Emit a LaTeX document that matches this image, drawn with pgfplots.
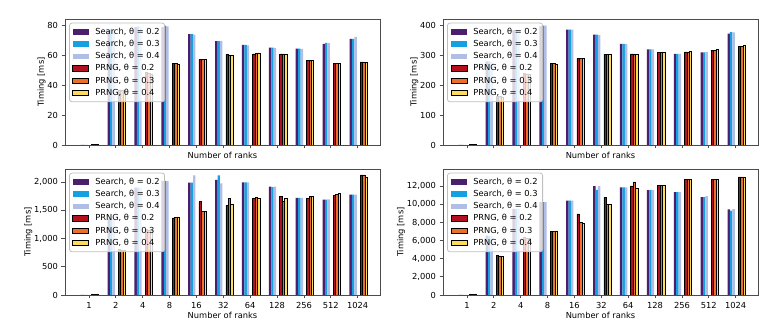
\documentclass[border=0pt]{standalone}
\usepackage{fontspec}
\setmainfont{DejaVu Sans}
\usepackage{pgfplots}
\pgfplotsset{compat=1.18}
\usepackage{pgfplotstable}

\definecolor{cs2}{RGB}{76,30,110}
\definecolor{cs3}{RGB}{20,160,225}
\definecolor{cs4}{RGB}{176,190,230}
\definecolor{cp2}{RGB}{180,15,30}
\definecolor{cp3}{RGB}{235,110,45}
\definecolor{cp4}{RGB}{253,220,90}

\pgfplotstableread{
x s2 s3 s4 p2 p3 p4
0 0 0 0 0.3 0.3 0.3
1 77 78 77 36.9 36.9 36.5
2 79 79.5 79 48.5 48 47.5
3 79 80 79.5 54.8 54.5 54.1
4 74.2 74.2 74 57.4 57.4 57.4
5 69.5 69.6 69.5 60.8 60.3 60.3
6 67 67 66.8 61.0 61.4 61.4
7 65.2 65.2 65 61 61 60.9
8 64.6 64.5 64.3 56.8 56.8 56.9
9 67.7 68.4 68.2 54.8 54.8 54.8
10 71 71 72.4 55.6 55.6 55.2
}\dataA

\pgfplotstableread{
x s2 s3 s4 p2 p3 p4
0 0 0 0 1 1 1
1 280 280 278 162 162 160
2 385 385 383 240 238 236
3 398 400 400 273.7 273 271
4 386.6 386 386 290.5 290.5 291
5 370 370 368 304 304 304
6 338.5 338.5 338 305 305 304
7 320.6 320.6 320.6 310.6 310.6 310
8 305 305 305 311.7 312 312.5
9 310.6 310.6 311 317.3 317 319.5
10 373 377.7 377 329.6 330 333
}\dataB

\pgfplotstableread{
x s2 s3 s4 p2 p3 p4
0 0 0 0 8 8 8
1 1350 1350 1340 801 800 800
2 1900 1900 1900 1157 1150 1150
3 2020 2018 2015 1365 1377 1383
4 1988 1988 2119 1650 1484 1478
5 2036 2119 1976 1585 1703 1597
6 1994 1994 1994 1715 1721 1709
7 1917 1911 1917 1751 1650 1709
8 1721 1721 1721 1709 1739 1739
9 1686 1686 1692 1763 1786 1798
10 1775 1775 1775 2125 2125 2077
}\dataC

\pgfplotstableread{
x s2 s3 s4 p2 p3 p4
0 0 0 0 50 50 50
1 6550 6500 6500 4340 4320 4300
2 9500 9500 9480 6310 6300 6300
3 10250 10250 10250 7000 7000 7075
4 10394 10394 10394 8935 7987 7950
5 12000 11600 12000 10760 10030 10030
6 11853 11853 11853 12035 12473 11780
7 11561 11561 11561 12072 12072 12072
8 11342 11342 11342 12728 12728 12728
9 10795 10795 10905 12765 12765 12728
10 9446 9300 9482 13020 13020 13020
}\dataD

\pgfplotsset{
  panel/.style={
    scale only axis, width=315pt, height=125.7pt,
    xmin=-0.89, xmax=10.83, ymin=0,
    xtick={0,...,10},
    tick align=outside, xtick pos=left, ytick pos=left,
    major tick length=3.5pt,
    every tick/.style={black!70, line width=0.8pt},
    axis line style={black!70, line width=0.8pt},
    font=\fontsize{8.3}{10}\selectfont,
    /pgf/number format/assume math mode=true,
    scaled y ticks=false,
    xlabel={Number of ranks}, ylabel={Timing [ms]},
    ylabel shift=-5pt,
    legend cell align=left,
    legend style={at={(0.013,0.973)}, anchor=north west,
      fill=white, fill opacity=0.8, draw opacity=1, text opacity=1,
      draw=black!25, line width=0.8pt, rounded corners=2.5pt,
      inner xsep=3pt, inner ysep=3pt,
      font=\fontsize{8.3}{10}\selectfont, row sep=0.3pt,
      /tikz/every odd column/.append style={column sep=4pt}},
  },
  sb/.style={ybar, bar width=0.09, bar shift=#1, draw=none},
  pb/.style={ybar, bar width=0.09, bar shift=#1, draw=black, line width=0.6pt},
}

\newcommand{\bars}[1]{%
  \addplot[sb=-0.26, fill=cs2, legend image code/.code={\draw[fill=cs2, fill opacity=1, draw=none, sharp corners] (0pt,-2.8pt) rectangle (16pt,2.8pt);}] table[x=x, y=s2]{#1};
  \addlegendentry{Search, θ = 0.2}
  \addplot[sb=-0.17, fill=cs3, legend image code/.code={\draw[fill=cs3, fill opacity=1, draw=none, sharp corners] (0pt,-2.8pt) rectangle (16pt,2.8pt);}] table[x=x, y=s3]{#1};
  \addlegendentry{Search, θ = 0.3}
  \addplot[sb=-0.08, fill=cs4, legend image code/.code={\draw[fill=cs4, fill opacity=1, draw=none, sharp corners] (0pt,-2.8pt) rectangle (16pt,2.8pt);}] table[x=x, y=s4]{#1};
  \addlegendentry{Search, θ = 0.4}
  \addplot[pb=0.14, fill=cp2, legend image code/.code={\draw[fill=cp2, fill opacity=1, draw=black, line width=0.8pt, sharp corners] (0pt,-2.8pt) rectangle (16pt,2.8pt);}] table[x=x, y=p2]{#1};
  \addlegendentry{PRNG, θ = 0.2}
  \addplot[pb=0.23, fill=cp3, legend image code/.code={\draw[fill=cp3, fill opacity=1, draw=black, line width=0.8pt, sharp corners] (0pt,-2.8pt) rectangle (16pt,2.8pt);}] table[x=x, y=p3]{#1};
  \addlegendentry{PRNG, θ = 0.3}
  \addplot[pb=0.32, fill=cp4, legend image code/.code={\draw[fill=cp4, fill opacity=1, draw=black, line width=0.8pt, sharp corners] (0pt,-2.8pt) rectangle (16pt,2.8pt);}] table[x=x, y=p4]{#1};
  \addlegendentry{PRNG, θ = 0.4}
}

\begin{document}
\begin{tikzpicture}
\useasboundingbox (0,0) rectangle (778pt,323pt);
\begin{axis}[panel, at={(65pt,178pt)}, anchor=south west,
  xticklabels={}, xlabel shift=-7pt, ymax=84.2, ytick={0,20,...,80}]
\bars{\dataA}
\end{axis}
\begin{axis}[panel, at={(443pt,178pt)}, anchor=south west,
  xticklabels={}, xlabel shift=-7pt, ymax=421, ytick={0,100,...,400}]
\bars{\dataB}
\end{axis}
\begin{axis}[panel, at={(65pt,28pt)}, anchor=south west, xlabel shift=-3pt,
  xticklabels={1,2,4,8,16,32,64,128,256,512,1024}, ymax=2225, ytick={0,500,...,2000}]
\bars{\dataC}
\end{axis}
\begin{axis}[panel, at={(443pt,28pt)}, anchor=south west, xlabel shift=-3pt,
  xticklabels={1,2,4,8,16,32,64,128,256,512,1024}, ymax=13860, ytick={0,2000,...,12000}]
\bars{\dataD}
\end{axis}
\end{tikzpicture}
\end{document}
